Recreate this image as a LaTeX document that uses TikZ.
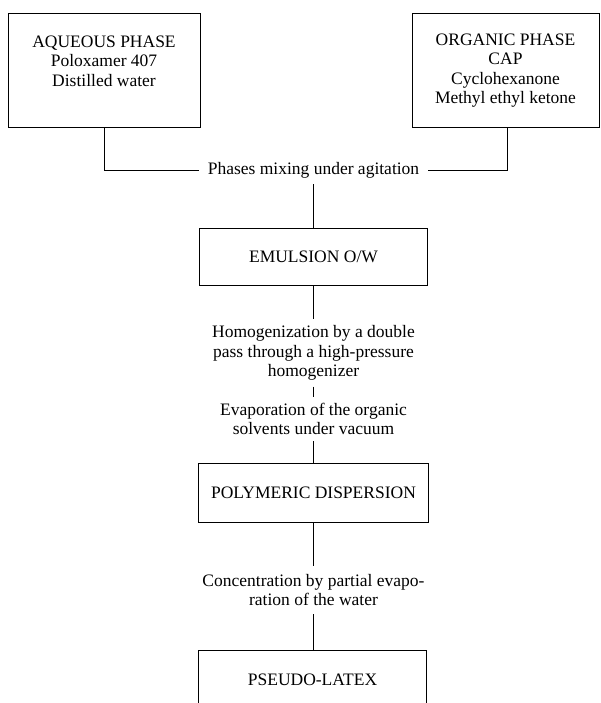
\documentclass[tikz,border=0pt]{standalone}
\usepackage{fontspec}
\setmainfont{Liberation Serif}
\begin{document}
\begin{tikzpicture}[x=1pt,y=-1pt,
  every node/.style={font=\fontsize{17.5}{19.5}\selectfont},
  box/.style={draw, line width=0.9pt, rectangle, inner sep=0pt},
  txt/.style={align=center, inner xsep=9pt, inner ysep=6pt},
  link/.style={line width=0.9pt}]
\useasboundingbox (0,0) rectangle (600,703);
\clip (0,0) rectangle (600,703);
% boxes
\node[box, minimum width=192pt, minimum height=114pt] (aq) at (104,70) {};
\node[align=center, inner sep=0pt] (aqt) at (104,61) {AQUEOUS PHASE\\Poloxamer 407\\Distilled water};
\node[box, minimum width=187pt, minimum height=114pt] (org) at (505.5,70) {};
\node[align=center, inner sep=0pt] (orgt) at (505.5,70.5) {ORGANIC PHASE\\CAP\\Cyclohexanone\\Methyl ethyl ketone};
\node[txt] (mix) at (313.5,170) {Phases mixing under agitation};
\node[box, minimum width=228pt, minimum height=57pt] (emu) at (313.5,256.5) {EMULSION O/W};
\node[txt] (hom) at (313.5,353) {Homogenization by a double\\pass through a high-pressure\\homogenizer};
\node[txt] (eva) at (313.5,419) {Evaporation of the organic\\solvents under vacuum};
\node[box, minimum width=230pt, minimum height=59pt] (pol) at (313.5,492.5) {POLYMERIC DISPERSION};
\node[txt, inner ysep=8pt] (con) at (313.5,590) {Concentration by partial evapo-\\ration of the water};
\node[box, minimum width=228pt, minimum height=60pt] (pse) at (312.5,680) {PSEUDO-LATEX};
% connectors
\draw[link] (aq.south) |- (mix.west);
\draw[link] ([xshift=2pt]org.south) |- (mix.east);
\draw[link] (mix.south) -- (mix.south |- emu.north);
\draw[link] (emu.south) -- (hom.north);
\draw[link] (hom.south) -- (eva.north);
\draw[link] (eva.south) -- (eva.south |- pol.north);
\draw[link] (pol.south) -- (con.north);
\draw[link] (con.south) -- (con.south |- pse.north);
\end{tikzpicture}
\end{document}
